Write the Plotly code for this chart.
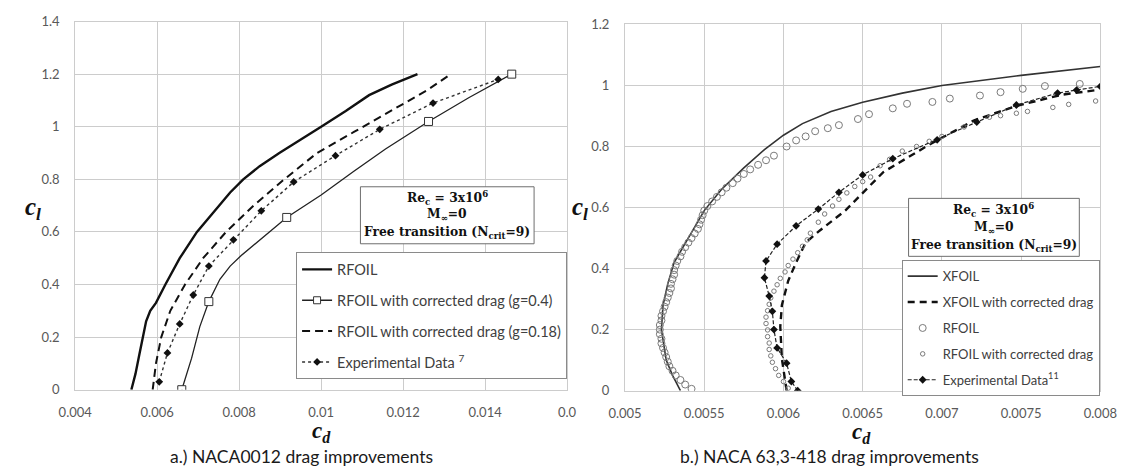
import plotly.graph_objects as go

W, H = 1139, 475

# ---------------- a.) NACA0012 ----------------
a_xticks = [0.004, 0.006, 0.008, 0.010, 0.012, 0.014, 0.016]
a_xlabels = ["0.004", "0.006", "0.008", "0.01", "0.012", "0.014", "0.0"]
a_yticks = [0, 0.2, 0.4, 0.6, 0.8, 1.0, 1.2, 1.4]
a_ylabels = ["0", "0.2", "0.4", "0.6", "0.8", "1", "1.2", "1.4"]

rfoil_a_cd = [0.00537, 0.00547, 0.00556, 0.00566, 0.00573, 0.00583, 0.00597, 0.00620, 0.00655,
              0.00697, 0.00750, 0.00778, 0.00810, 0.00850, 0.00898, 0.00950, 0.01000, 0.01060,
              0.01117, 0.01172, 0.01235]
rfoil_a_cl = [0.0, 0.06, 0.13, 0.20, 0.26, 0.30, 0.33, 0.40, 0.50,
              0.60, 0.70, 0.75, 0.80, 0.85, 0.90, 0.95, 1.00, 1.06,
              1.12, 1.16, 1.20]

g04_cd = [0.00660, 0.00672, 0.00684, 0.00704, 0.00726, 0.00753, 0.00778, 0.00805, 0.00850,
          0.00916, 0.01000, 0.01079, 0.01157, 0.01262, 0.01360, 0.01465]
g04_cl = [0.0, 0.06, 0.12, 0.24, 0.335, 0.42, 0.47, 0.51, 0.57,
          0.655, 0.74, 0.83, 0.915, 1.02, 1.11, 1.20]
g04_mark_cd = [0.00660, 0.00726, 0.00916, 0.01262, 0.01465]
g04_mark_cl = [0.0, 0.335, 0.655, 1.02, 1.20]

g018_cd = [0.00589, 0.00597, 0.00610, 0.00632, 0.00668, 0.00712, 0.00768, 0.00835,
           0.00910, 0.00990, 0.01080, 0.01170, 0.01260, 0.01316]
g018_cl = [0.0, 0.10, 0.20, 0.30, 0.40, 0.50, 0.60, 0.70,
           0.80, 0.90, 0.98, 1.06, 1.14, 1.20]

exp_a_cd = [0.00605, 0.00625, 0.00655, 0.00688, 0.00726, 0.00786, 0.00854, 0.00933,
            0.01035, 0.01143, 0.01273, 0.01432]
exp_a_cl = [0.03, 0.14, 0.25, 0.36, 0.47, 0.57, 0.68, 0.79, 0.89, 0.99, 1.09, 1.18]

# ---------------- b.) NACA 63,3-418 ----------------
b_xticks = [0.005, 0.0055, 0.006, 0.0065, 0.007, 0.0075, 0.008]
b_xlabels = ["0.005", "0.0055", "0.006", "0.0065", "0.007", "0.0075", "0.008"]
b_yticks = [0, 0.2, 0.4, 0.6, 0.8, 1.0, 1.2]
b_ylabels = ["0", "0.2", "0.4", "0.6", "0.8", "1", "1.2"]

xfoil_cd = [0.00535, 0.00530, 0.00526, 0.00523, 0.00524, 0.00527, 0.00531, 0.00540, 0.00550,
            0.00561, 0.00575, 0.00588, 0.00600, 0.00612, 0.00630, 0.00650, 0.00675, 0.00700,
            0.00750, 0.00800]
xfoil_cl = [0.0, 0.05, 0.10, 0.20, 0.28, 0.35, 0.42, 0.50, 0.59,
            0.66, 0.73, 0.79, 0.837, 0.875, 0.915, 0.945, 0.975, 1.00,
            1.033, 1.062]

xfoil_corr_cd = [0.00602, 0.00599, 0.00598, 0.00599, 0.00603, 0.00608, 0.00614, 0.00623,
                 0.00639, 0.00651, 0.00663, 0.00692, 0.00720, 0.00747, 0.00776, 0.00798]
xfoil_corr_cl = [0.0, 0.105, 0.21, 0.28, 0.36, 0.42, 0.485, 0.525,
                 0.59, 0.653, 0.716, 0.806, 0.885, 0.933, 0.97, 0.985]

rfoil_b_cd = [0.00542, 0.00538, 0.00535, 0.00532, 0.00530, 0.00528, 0.00527, 0.00526, 0.00525,
              0.00524, 0.00523, 0.00523, 0.00522, 0.00522, 0.00522, 0.00523, 0.00523, 0.00524,
              0.00525, 0.00526, 0.00527, 0.00528, 0.00529, 0.00529, 0.00530, 0.00531, 0.00531,
              0.00532, 0.00533, 0.00535, 0.00536, 0.00538, 0.00540, 0.00542, 0.00544, 0.00546,
              0.00547, 0.00548, 0.00549, 0.00550, 0.00552, 0.00555, 0.00558, 0.00561, 0.00564,
              0.00568, 0.00571, 0.00575, 0.00579, 0.00584, 0.00589, 0.00594, 0.00602, 0.00608,
              0.00614, 0.00620, 0.00628, 0.00635, 0.00647, 0.00654, 0.00669, 0.00678, 0.00694,
              0.00705, 0.00724, 0.00737, 0.00751, 0.00765, 0.00787]
rfoil_b_cl = [0.006, 0.02, 0.035, 0.05, 0.065, 0.08, 0.095, 0.11, 0.125,
              0.14, 0.155, 0.17, 0.185, 0.20, 0.215, 0.23, 0.245, 0.26,
              0.275, 0.29, 0.305, 0.32, 0.335, 0.35, 0.365, 0.38, 0.395,
              0.41, 0.425, 0.44, 0.455, 0.47, 0.485, 0.50, 0.515, 0.53,
              0.545, 0.56, 0.575, 0.59, 0.605, 0.62, 0.635, 0.65, 0.665,
              0.68, 0.695, 0.71, 0.725, 0.74, 0.755, 0.77, 0.80, 0.82,
              0.833, 0.85, 0.86, 0.87, 0.89, 0.906, 0.925, 0.94, 0.946,
              0.957, 0.967, 0.978, 0.989, 0.998, 1.005]

rfoil_corr_cd = [0.00603, 0.00600, 0.00597, 0.00595, 0.00593, 0.00592, 0.00591, 0.00591, 0.00590,
                 0.00590, 0.00589, 0.00589, 0.00590, 0.00591, 0.00592, 0.00594, 0.00596, 0.00598,
                 0.00601, 0.00603, 0.00606, 0.00609, 0.00612, 0.00615, 0.00617, 0.00622, 0.00626,
                 0.00631, 0.00635, 0.00640, 0.00645, 0.00650, 0.00655, 0.00661, 0.00667, 0.00675,
                 0.00684, 0.00692, 0.00700, 0.00714, 0.00730, 0.00737, 0.00747, 0.00754, 0.00770,
                 0.00780, 0.00797]
rfoil_corr_cl = [0.008, 0.03, 0.05, 0.072, 0.093, 0.114, 0.135, 0.156, 0.177,
                 0.199, 0.22, 0.241, 0.262, 0.283, 0.304, 0.326, 0.347, 0.368,
                 0.389, 0.41, 0.431, 0.452, 0.473, 0.494, 0.516, 0.552, 0.579,
                 0.605, 0.627, 0.648, 0.669, 0.685, 0.70, 0.737, 0.758, 0.785,
                 0.80, 0.817, 0.833, 0.864, 0.896, 0.901, 0.909, 0.915, 0.928,
                 0.938, 0.949]

exp_b_cd = [0.00609, 0.00605, 0.00602, 0.00596, 0.00594, 0.00593, 0.00591, 0.00588, 0.00589,
            0.00596, 0.00608, 0.00622, 0.00635, 0.00650, 0.00669, 0.00697, 0.00722, 0.00747,
            0.00773, 0.00785, 0.00800]
exp_b_cl = [0.0, 0.03, 0.09, 0.14, 0.20, 0.26, 0.31, 0.37, 0.425,
            0.48, 0.54, 0.595, 0.65, 0.707, 0.76, 0.822, 0.88, 0.936,
            0.975, 0.985, 0.997]

fig = go.Figure()

# --- left panel traces ---
fig.add_trace(go.Scatter(x=rfoil_a_cd, y=rfoil_a_cl, mode="lines", name="RFOIL",
                         line=dict(color="#111111", width=2.4),
                         xaxis="x", yaxis="y", legend="legend", legendgroup="a1"))
fig.add_trace(go.Scatter(x=g04_cd, y=g04_cl, mode="lines", showlegend=False,
                         line=dict(color="#222222", width=1.3),
                         xaxis="x", yaxis="y", legendgroup="a2"))
fig.add_trace(go.Scatter(x=g04_mark_cd, y=g04_mark_cl, mode="markers",
                         name="RFOIL with corrected drag (g=0.4)",
                         marker=dict(symbol="square", size=8, color="white",
                                     line=dict(color="#333333", width=1)),
                         xaxis="x", yaxis="y", legend="legend", legendgroup="a2",
                         showlegend=False))
fig.add_trace(go.Scatter(x=[None], y=[None], mode="lines+markers",
                         name="RFOIL with corrected drag (g=0.4)",
                         line=dict(color="#222222", width=1.3),
                         marker=dict(symbol="square", size=7, color="white",
                                     line=dict(color="#333333", width=1)),
                         xaxis="x", yaxis="y", legend="legend", legendgroup="a2"))
fig.add_trace(go.Scatter(x=g018_cd, y=g018_cl, mode="lines",
                         name="RFOIL with corrected drag (g=0.18)",
                         line=dict(color="#111111", width=2, dash="8px,5px"),
                         xaxis="x", yaxis="y", legend="legend", legendgroup="a3"))
fig.add_trace(go.Scatter(x=exp_a_cd, y=exp_a_cl, mode="lines+markers",
                         name="Experimental Data <sup>7</sup>",
                         line=dict(color="#333333", width=1.4, dash="dot"),
                         marker=dict(symbol="diamond", size=6, color="#111111"),
                         xaxis="x", yaxis="y", legend="legend", legendgroup="a4"))

# --- right panel traces ---
fig.add_trace(go.Scatter(x=xfoil_cd, y=xfoil_cl, mode="lines", name="XFOIL",
                         line=dict(color="#333333", width=1.6),
                         xaxis="x2", yaxis="y2", legend="legend2", legendgroup="b1"))
fig.add_trace(go.Scatter(x=xfoil_corr_cd, y=xfoil_corr_cl, mode="lines",
                         name="XFOIL with corrected drag",
                         line=dict(color="#111111", width=2.4, dash="7px,5px"),
                         xaxis="x2", yaxis="y2", legend="legend2", legendgroup="b2"))
fig.add_trace(go.Scatter(x=rfoil_b_cd, y=rfoil_b_cl, mode="markers", name="RFOIL",
                         marker=dict(symbol="circle-open", size=7, color="#7a7a7a",
                                     line=dict(width=1)),
                         xaxis="x2", yaxis="y2", legend="legend2", legendgroup="b3"))
fig.add_trace(go.Scatter(x=rfoil_corr_cd, y=rfoil_corr_cl, mode="markers",
                         name="RFOIL with corrected drag",
                         marker=dict(symbol="circle-open", size=4.5, color="#7a7a7a",
                                     line=dict(width=1)),
                         xaxis="x2", yaxis="y2", legend="legend2", legendgroup="b4"))
fig.add_trace(go.Scatter(x=exp_b_cd, y=exp_b_cl, mode="lines+markers",
                         name="Experimental Data<sup>11</sup>",
                         line=dict(color="#222222", width=1.2, dash="4px,2px"),
                         marker=dict(symbol="diamond", size=6, color="#111111"),
                         xaxis="x2", yaxis="y2", legend="legend2", legendgroup="b5"))

grid = "#cccccc"
tickfont = dict(family="Lato", size=13, color="#595959")
common_axis = dict(showgrid=True, gridcolor=grid, gridwidth=1, zeroline=False,
                   showline=True, linecolor=grid, linewidth=1, mirror=True,
                   ticks="", tickfont=tickfont, tickmode="array")

fig.update_layout(
    width=W, height=H,
    margin=dict(l=0, r=0, t=0, b=0),
    paper_bgcolor="white", plot_bgcolor="white",
    xaxis=dict(domain=[60 / W, 567 / W], range=[0.004, 0.016], anchor="y",
               tickvals=a_xticks, ticktext=a_xlabels, ticklabelstandoff=11, **common_axis),
    yaxis=dict(domain=[1 - 395 / H, 1 - 14 / H], range=[0, 1.4], anchor="x",
               tickvals=a_yticks, ticktext=a_ylabels, ticklabelstandoff=12, **common_axis),
    xaxis2=dict(domain=[626.7 / W, 1116.7 / W], range=[0.005, 0.008], anchor="y2",
                tickvals=b_xticks, ticktext=b_xlabels, ticklabelstandoff=11, **common_axis),
    yaxis2=dict(domain=[1 - 396 / H, 1 - 17 / H], range=[0, 1.2], anchor="x2",
                tickvals=b_yticks, ticktext=b_ylabels, ticklabelstandoff=12, **common_axis),
    legend=dict(x=567 / W, y=1 - 253 / H, xanchor="right", yanchor="top",
                bgcolor="white", bordercolor="#8a8a8a", borderwidth=1,
                font=dict(family="Lato", size=14.5, color="#404040"),
                itemwidth=30, traceorder="grouped", tracegroupgap=9),
    legend2=dict(x=1116 / W, y=1 - 261 / H, xanchor="right", yanchor="top",
                 bgcolor="white", bordercolor="#8a8a8a", borderwidth=1,
                 font=dict(family="Lato", size=13, color="#404040"),
                 itemwidth=30, traceorder="grouped", tracegroupgap=6),
    showlegend=True,
)

# condition boxes
box_font = dict(family="DejaVu Serif", size=12.3, color="#111111")
for (x0, x1, y0, y1, ys) in [(354, 533, 185, 244, (197, 214, 232)),
                             (919, 1095, 197, 257, (209, 227, 246))]:
    fig.add_shape(type="rect", xref="paper", yref="paper",
                  x0=x0 / W, x1=x1 / W, y0=1 - y1 / H, y1=1 - y0 / H,
                  line=dict(color="#6e6e6e", width=1), fillcolor="white", layer="above")
    cx = (x0 + x1) / 2 / W
    texts = ["<b>Re<sub>c</sub> = 3x10<sup>6</sup></b>", "<b>M<sub>\u221e</sub>=0</b>",
             "<b>Free transition (N<sub>crit</sub>=9)</b>"]
    for t, yy in zip(texts, ys):
        fig.add_annotation(x=cx, y=1 - yy / H, xref="paper", yref="paper", text=t,
                           showarrow=False, xanchor="center", yanchor="middle", font=box_font)

# axis titles
title_font = dict(family="Liberation Serif", size=25, color="#111111")
for (tx, ty, t) in [(17, 208, "<b><i>c<sub>l</sub></i></b>"),
                    (580, 207, "<b><i>c<sub>l</sub></i></b>")]:
    fig.add_annotation(x=tx / W, y=1 - ty / H, xref="paper", yref="paper", text=t,
                       showarrow=False, xanchor="center", yanchor="middle", font=title_font)
cd_font = dict(family="Liberation Serif", size=23, color="#111111")
for (tx, ty, t) in [(314, 422, "<b><i>c<sub>d</sub></i></b>"),
                    (871, 423, "<b><i>c<sub>d</sub></i></b>")]:
    fig.add_annotation(x=tx / W, y=1 - ty / H, xref="paper", yref="paper", text=t,
                       showarrow=False, xanchor="center", yanchor="top", font=cd_font)

# captions
cap_font = dict(family="Lato", size=17.5, color="#1a1a1a")
fig.add_annotation(x=293 / W, y=1 - 464 / H, xref="paper", yref="paper",
                   text="a.) NACA0012 drag improvements", showarrow=False,
                   xanchor="center", yanchor="middle", font=cap_font)
fig.add_annotation(x=838 / W, y=1 - 464 / H, xref="paper", yref="paper",
                   text="b.) NACA 63,3-418 drag improvements", showarrow=False,
                   xanchor="center", yanchor="middle", font=cap_font)

fig.write_html("out.html")
